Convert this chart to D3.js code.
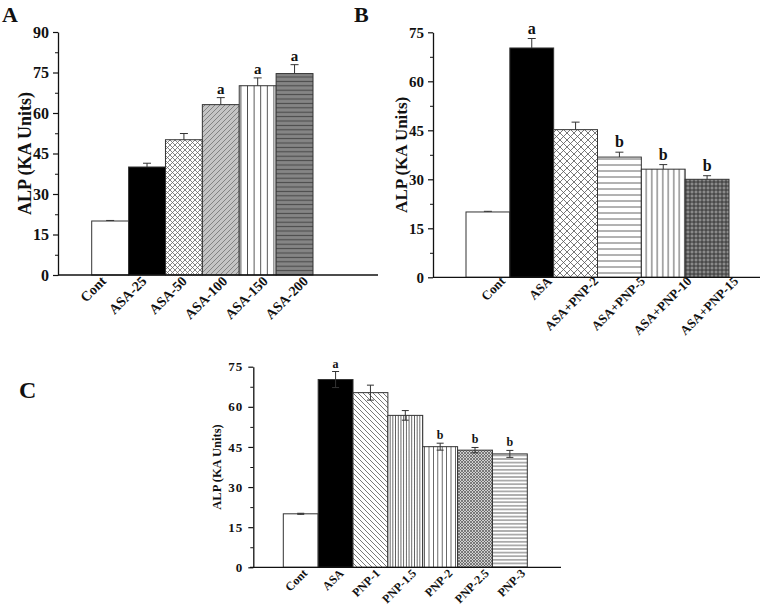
<!DOCTYPE html>
<html>
<head>
<meta charset="utf-8">
<script src="https://cdn.jsdelivr.net/npm/d3@7/dist/d3.min.js"></script>
<style>
  html, body { margin: 0; padding: 0; background: #fff; }
  svg { display: block; }
  text { font-family: "Liberation Serif", "Times New Roman", serif; font-weight: bold; fill: #111; }
</style>
</head>
<body>
<svg id="chart" width="766" height="614"></svg>
<script>
// ---------------- DATA ----------------
const catsA = ["Cont", "ASA-25", "ASA-50", "ASA-100", "ASA-150", "ASA-200"];
const valsA = [20, 40, 50.1, 63.1, 70.1, 74.6];
const errsA = [0.2, 1.4, 2.3, 2.6, 2.9, 3.3];
const sigA  = ["", "", "", "a", "a", "a"];
const ticksA = [0, 15, 30, 45, 60, 75, 90];

const catsB = ["Cont", "ASA", "ASA+PNP-2", "ASA+PNP-5", "ASA+PNP-10", "ASA+PNP-15"];
const valsB = [20, 70.2, 45.2, 36.8, 33.1, 30];
const errsB = [0.2, 2.9, 2.3, 1.5, 1.4, 1.1];
const sigB  = ["", "a", "", "b", "b", "b"];
const ticksB = [0, 15, 30, 45, 60, 75];

const catsC = ["Cont", "ASA", "PNP-1", "PNP-1.5", "PNP-2", "PNP-2.5", "PNP-3"];
const valsC = [20, 70.2, 65.3, 56.8, 45.1, 43.8, 42.4];
const errsC = [0.2, 3.0, 2.8, 1.8, 1.3, 1.0, 1.3];
const sigC  = ["", "a", "", "", "b", "b", "b"];
const ticksC = [0, 15, 30, 45, 60, 75];

// ---------------- PATTERNS ----------------
const svg = d3.select("#chart");
const defs = svg.append("defs");

function pat(id, size, bg, draw) {
  const p = defs.append("pattern").attr("id", id)
    .attr("patternUnits", "userSpaceOnUse")
    .attr("width", size).attr("height", size);
  p.append("rect").attr("width", size).attr("height", size).attr("fill", bg);
  draw(p, size);
}
function hLines(stroke, w) { return (p, s) => p.append("line").attr("x1", 0).attr("x2", s).attr("y1", s / 2).attr("y2", s / 2).attr("stroke", stroke).attr("stroke-width", w); }
function vLines(stroke, w) { return (p, s) => p.append("line").attr("y1", 0).attr("y2", s).attr("x1", s / 2).attr("x2", s / 2).attr("stroke", stroke).attr("stroke-width", w); }
function grid(stroke, w) { return (p, s) => { hLines(stroke, w)(p, s); vLines(stroke, w)(p, s); }; }
function fwd(stroke, w) { return (p, s) => { p.append("path").attr("d", `M0,${s} L${s},0 M${-s/2},${s/2} L${s/2},${-s/2} M${s/2},${s*1.5} L${s*1.5},${s/2}`).attr("stroke", stroke).attr("stroke-width", w); }; }
function back(stroke, w) { return (p, s) => { p.append("path").attr("d", `M0,0 L${s},${s} M${-s/2},${s/2} L${s/2},${s*1.5} M${s/2},${-s/2} L${s*1.5},${s/2}`).attr("stroke", stroke).attr("stroke-width", w); }; }
function cross(stroke, w) { return (p, s) => { fwd(stroke, w)(p, s); back(stroke, w)(p, s); }; }

pat("crossA", 5, "#fff", cross("#666", 0.8));
pat("diagA", 5, "#c4c4c4", fwd("#7a7a7a", 0.9));
pat("vertA", 6.6, "#fff", vLines("#444", 0.9));
pat("horizA", 4.4, "#858585", hLines("#4a4a4a", 1.1));
pat("crossB", 7, "#fff", cross("#555", 0.8));
pat("horizB", 6, "#fff", hLines("#555", 0.9));
pat("vertB", 5.5, "#fff", vLines("#444", 0.9));
pat("gridB", 4, "#8a8a8a", grid("#2e2e2e", 0.9));
pat("backC", 5, "#fff", back("#555", 0.8));
pat("vertDenseC", 2.7, "#fff", vLines("#555", 0.9));
pat("vertC", 4.4, "#fff", vLines("#555", 0.9));
pat("crossDenseC", 3, "#d0d0d0", cross("#555", 0.7));
pat("horizC", 3.6, "#fff", hLines("#555", 0.9));

const fillsA = ["#fff", "#000", "url(#crossA)", "url(#diagA)", "url(#vertA)", "url(#horizA)"];
const fillsB = ["#fff", "#000", "url(#crossB)", "url(#horizB)", "url(#vertB)", "url(#gridB)"];
const fillsC = ["#fff", "#000", "url(#backC)", "url(#vertDenseC)", "url(#vertC)", "url(#crossDenseC)", "url(#horizC)"];

// ---------------- PANEL DRAWING ----------------
function panel(cfg) {
  const g = svg.append("g");
  const y = d3.scaleLinear().domain([0, cfg.ymax]).range([cfg.y0, cfg.y1]);
  const x = d3.scaleBand().domain(cfg.cats).range(cfg.barRange).padding(0);
  const xl = d3.scalePoint().domain(cfg.cats).range(cfg.labelRange);
  const data = cfg.cats.map((c, i) => ({ c, v: cfg.vals[i], e: cfg.errs[i], s: cfg.sig[i], f: cfg.fills[i] }));

  // bars
  g.selectAll("rect.bar").data(data).join("rect").attr("class", "bar")
    .attr("x", d => x(d.c)).attr("width", x.bandwidth())
    .attr("y", d => y(d.v)).attr("height", d => y(0) - y(d.v))
    .attr("fill", d => d.f).attr("stroke", "#333").attr("stroke-width", 1);

  // error bars
  const cw = cfg.cap;
  const lo = d => cfg.twoSided ? d.v - d.e : d.v;
  const eb = g.selectAll("g.err").data(data).join("g").attr("class", "err")
    .attr("stroke", "#333").attr("stroke-width", 1);
  eb.append("line").attr("x1", d => x(d.c) + x.bandwidth() / 2).attr("x2", d => x(d.c) + x.bandwidth() / 2)
    .attr("y1", d => y(lo(d))).attr("y2", d => y(d.v + d.e));
  eb.append("line").attr("x1", d => x(d.c) + x.bandwidth() / 2 - cw / 2).attr("x2", d => x(d.c) + x.bandwidth() / 2 + cw / 2)
    .attr("y1", d => y(d.v + d.e)).attr("y2", d => y(d.v + d.e));
  if (cfg.twoSided) {
    eb.append("line").attr("x1", d => x(d.c) + x.bandwidth() / 2 - cw / 2).attr("x2", d => x(d.c) + x.bandwidth() / 2 + cw / 2)
      .attr("y1", d => y(d.v - d.e)).attr("y2", d => y(d.v - d.e));
  }

  // significance letters
  g.selectAll("text.sig").data(data.filter(d => d.s)).join("text").attr("class", "sig")
    .attr("x", d => x(d.c) + x.bandwidth() / 2).attr("y", d => y(d.v + d.e) - cfg.sigGap)
    .attr("text-anchor", "middle").attr("font-size", cfg.sigSize).text(d => d.s);

  // y axis (major + minor)
  const minor = [];
  for (let i = 0; i < cfg.ticks.length - 1; i++) minor.push((cfg.ticks[i] + cfg.ticks[i + 1]) / 2);
  const ax = g.append("g").attr("transform", `translate(${cfg.ax},0)`)
    .call(d3.axisLeft(y).tickValues(cfg.ticks).tickSize(5).tickSizeOuter(0).tickPadding(cfg.tickPad).tickFormat(d3.format("d")));
  ax.select(".domain").attr("stroke", "#111").attr("stroke-width", 1.3);
  ax.selectAll(".tick line").attr("stroke", "#111").attr("stroke-width", 1.2);
  ax.selectAll(".tick text").attr("font-size", cfg.tickSize).attr("font-family", "Liberation Serif, serif")
    .attr("font-weight", "bold").attr("fill", "#111").attr("letter-spacing", cfg.tickSpacing || 0);
  const mx = g.append("g").attr("transform", `translate(${cfg.ax},0)`)
    .call(d3.axisLeft(y).tickValues(minor).tickSize(3).tickSizeOuter(0).tickFormat(""));
  mx.select(".domain").remove();
  mx.selectAll(".tick line").attr("stroke", "#111").attr("stroke-width", 1);

  // baseline
  g.append("line").attr("x1", cfg.baseX[0]).attr("x2", cfg.baseX[1])
    .attr("y1", y(0)).attr("y2", y(0)).attr("stroke", "#111").attr("stroke-width", 1.3);

  // x labels
  g.selectAll("text.xl").data(data).join("text").attr("class", "xl")
    .attr("transform", d => `translate(${xl(d.c)},${cfg.labelY}) rotate(-45)`)
    .attr("text-anchor", "end").attr("font-size", cfg.labelSize).text(d => d.c);

  // y title
  g.append("text").attr("transform", `translate(${cfg.titleX},${(cfg.y0 + cfg.y1) / 2}) rotate(-90)`)
    .attr("text-anchor", "middle").attr("font-size", cfg.titleSize).text("ALP (KA Units)");

  // panel letter
  g.append("text").attr("x", cfg.letterPos[0]).attr("y", cfg.letterPos[1])
    .attr("font-size", cfg.letterSize).text(cfg.letter);
}

panel({
  cats: catsA, vals: valsA, errs: errsA, sig: sigA, fills: fillsA, ticks: ticksA, ymax: 90,
  y0: 275, y1: 32, ax: 58, barRange: [91.7, 313], labelRange: [107, 309], labelY: 282,
  baseX: [58, 378], cap: 8, sigGap: 4, sigSize: 15, tickSize: 16, tickPad: 4,
  labelSize: 14, titleX: 31, titleSize: 18, letter: "A", letterPos: [2, 22], letterSize: 22,
  twoSided: false
});

panel({
  cats: catsB, vals: valsB, errs: errsB, sig: sigB, fills: fillsB, ticks: ticksB, ymax: 75,
  y0: 277.3, y1: 32.3, ax: 433, barRange: [466, 729], labelRange: [506, 739], labelY: 282,
  baseX: [433, 760], cap: 8, sigGap: 5, sigSize: 16, tickSize: 15, tickPad: 4,
  labelSize: 13, titleX: 407, titleSize: 17, letter: "B", letterPos: [354, 22], letterSize: 22,
  twoSided: false
});

panel({
  cats: catsC, vals: valsC, errs: errsC, sig: sigC, fills: fillsC, ticks: ticksC, ymax: 75,
  y0: 567.3, y1: 366.7, ax: 253.3, barRange: [283.3, 527.3], labelRange: [308, 526], labelY: 574,
  baseX: [250, 561], cap: 7, sigGap: 4, sigSize: 12, tickSize: 13, tickPad: 5, tickSpacing: 1,
  labelSize: 12, titleX: 221, titleSize: 12.5, letter: "C", letterPos: [19, 398], letterSize: 24,
  twoSided: true
});
</script>
</body>
</html>
